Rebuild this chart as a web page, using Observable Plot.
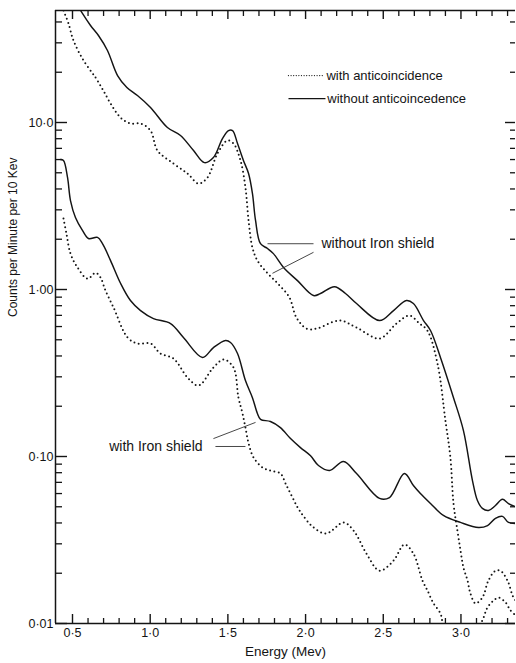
<!DOCTYPE html>
<html><head><meta charset="utf-8">
<script src="https://cdn.jsdelivr.net/npm/d3@7"></script>
<script src="https://cdn.jsdelivr.net/npm/@observablehq/plot@0.6"></script>
<style>
body{margin:0;background:#fff}
#chart svg{display:block}
</style>
</head><body><div id="chart"></div>
<script>
// ---- Data ----
// Without iron shield, without anticoincidence (upper solid)
const energyNoShieldNoAnti = [0.526,0.564,0.616,0.667,0.725,0.790,0.850,0.918,1.002,1.111,1.195,1.279,1.349,1.407,1.465,1.504,1.530,1.562,1.600,1.633,1.658,1.678,1.710,1.755,1.793,1.858,1.948,2.051,2.096,2.186,2.257,2.328,2.476,2.566,2.649,2.694,2.759,2.804,2.868,2.952,3.016,3.074,3.106,3.138,3.177,3.222,3.267,3.306,3.364];
const countsNoShieldNoAnti = [51.6,45.0,38.1,33.2,27.0,19.1,16.2,14.5,12.3,9.33,8.36,6.79,5.75,6.17,8.02,8.95,8.95,7.48,5.92,4.95,3.76,2.59,1.88,1.76,1.64,1.355,1.13,0.92,0.946,1.04,0.946,0.824,0.652,0.748,0.859,0.824,0.652,0.568,0.392,0.225,0.143,0.0718,0.0545,0.0489,0.0475,0.0509,0.0554,0.0523,0.0495];

// Without iron shield, with anticoincidence (upper dotted)
const energyNoShieldAnti = [0.423,0.442,0.474,0.506,0.571,0.648,0.699,0.745,0.809,0.873,0.938,1.002,1.047,1.150,1.240,1.311,1.369,1.433,1.497,1.536,1.581,1.613,1.633,1.658,1.690,1.755,1.819,1.896,1.941,2.006,2.070,2.218,2.328,2.476,2.585,2.669,2.733,2.784,2.849,2.900,2.932,2.952,2.977,2.997,3.016,3.042,3.061,3.093,3.138,3.177,3.222,3.254,3.299,3.338,3.364];
const countsNoShieldAnti = [52.4,46.9,39.2,31.0,23.5,18.6,15.5,13.0,10.7,9.86,9.86,8.95,6.79,5.68,4.95,4.31,4.69,6.52,7.80,7.48,5.92,4.08,2.59,1.78,1.49,1.25,1.09,0.895,0.679,0.583,0.583,0.652,0.591,0.509,0.625,0.698,0.625,0.568,0.360,0.164,0.0986,0.0523,0.0361,0.0274,0.0216,0.0181,0.0151,0.0132,0.0143,0.0181,0.0207,0.0207,0.0181,0.0143,0.0134];

// With iron shield, without anticoincidence (lower solid)
const energyShieldNoAnti = [0.423,0.442,0.468,0.487,0.519,0.564,0.603,0.661,0.693,0.745,0.809,0.873,0.938,1.021,1.131,1.214,1.337,1.407,1.485,1.517,1.562,1.613,1.658,1.690,1.710,1.774,1.838,1.903,1.967,2.032,2.083,2.154,2.244,2.328,2.476,2.540,2.636,2.694,2.739,2.804,2.887,2.997,3.113,3.171,3.222,3.267,3.306,3.364];
const countsShieldNoAnti = [6.0,5.92,4.69,3.41,2.70,2.26,2.02,2.05,1.88,1.49,1.09,0.859,0.748,0.670,0.625,0.516,0.392,0.449,0.495,0.482,0.414,0.285,0.225,0.181,0.167,0.162,0.149,0.128,0.113,0.101,0.0883,0.0824,0.0933,0.0791,0.0561,0.0568,0.0791,0.0670,0.0600,0.0523,0.0444,0.0403,0.0376,0.0386,0.0426,0.0438,0.0403,0.0397];

// With iron shield, with anticoincidence (lower dotted)
const energyShieldAnti = [0.442,0.461,0.487,0.532,0.597,0.648,0.680,0.712,0.764,0.854,0.918,1.002,1.066,1.150,1.240,1.311,1.407,1.472,1.536,1.568,1.594,1.613,1.633,1.665,1.723,1.774,1.838,1.871,1.916,1.961,2.051,2.134,2.244,2.308,2.392,2.476,2.566,2.636,2.694,2.752,2.784,2.823,2.868,2.887,3.000,3.126,3.171,3.209,3.241,3.286,3.318,3.351];
const countsShieldAnti = [2.66,2.16,1.64,1.355,1.16,1.26,1.18,0.986,0.780,0.516,0.475,0.475,0.414,0.386,0.297,0.266,0.341,0.381,0.341,0.225,0.181,0.149,0.120,0.0986,0.0859,0.0824,0.0791,0.0689,0.0568,0.0475,0.0376,0.0346,0.0403,0.0361,0.0262,0.0207,0.0238,0.0297,0.0262,0.0181,0.0158,0.0132,0.0115,0.0100,0.0080,0.0100,0.0125,0.0137,0.0143,0.0134,0.0120,0.0112];

// Axis ticks and labels
const xDomain = [0.3906, 3.351];
const yDomain = [0.01, 46.85];
const xMajorTicks = [0.5, 1.0, 1.5, 2.0, 2.5, 3.0];
const xTickLabels = ["0·5", "1·0", "1·5", "2·0", "2·5", "3·0"];
const xMinorTicks = [0.6,0.7,0.8,0.9,1.1,1.2,1.3,1.4,1.6,1.7,1.8,1.9,2.1,2.2,2.3,2.4,2.6,2.7,2.8,2.9,3.1,3.2,3.3];
const yMajorTicks = [0.01, 0.1, 1, 10];
const yTickLabels = ["0·01", "0·10", "1·00", "10·0"];
const yMinorTicks = [0.02,0.03,0.04,0.05,0.06,0.07,0.08,0.09,0.2,0.3,0.4,0.5,0.6,0.7,0.8,0.9,2,3,4,5,6,7,8,9,20,30,40];

const xTitle = "Energy (Mev)";
const yTitle = "Counts per Minute per 10 Kev";

// Legend and annotation text
const legendLabels = ["with anticoincidence", "without anticoincedence"];
const annotationLabels = ["without Iron shield", "with Iron shield"];

// ---- Build tables ----
const rows = (E, V) => E.map((e, i) => ({E: e, v: V[i]}));
const seriesSolid = [rows(energyNoShieldNoAnti, countsNoShieldNoAnti), rows(energyShieldNoAnti, countsShieldNoAnti)];
const seriesDotted = [rows(energyNoShieldAnti, countsNoShieldAnti), rows(energyShieldAnti, countsShieldAnti)];

// layout
const W = 516, H = 663, mL = 55, mR = 1, mT = 10, mB = 40;
const pw = W - mL - mR, ph = H - mT - mB;
const font = "'Liberation Sans', Arial, sans-serif";
const ink = "#141414";

// annotation placement (data coordinates)
const legendDotted = [{x1: 1.890, x2: 2.122, xt: 2.134, y: 19.1, label: legendLabels[0]}];
const legendSolid = [{x1: 1.890, x2: 2.128, xt: 2.140, y: 13.9, label: legendLabels[1]}];
const annotStart = [{x: 2.102, y: 1.88, label: annotationLabels[0]}];
const annotEnd = [{x: 1.337, y: 0.1148, label: annotationLabels[1]}];
const leaders = [
  {x1: 1.755, y1: 1.88, x2: 2.051, y2: 1.88},
  {x1: 2.051, y1: 1.67, x2: 1.787, y2: 1.25},
  {x1: 1.420, y1: 0.1148, x2: 1.613, y2: 0.1148},
  {x1: 1.407, y1: 0.128, x2: 1.678, y2: 0.160}
];

const solidStyle = {x: "E", y: "v", curve: "catmull-rom", clip: true, stroke: ink, strokeWidth: 1.45};
const dotStyle = {x: "E", y: "v", curve: "catmull-rom", clip: true, stroke: ink, strokeWidth: 2, strokeDasharray: "0,4.4", strokeLinecap: "round"};

const chart = Plot.plot({
  width: W, height: H,
  marginLeft: mL, marginRight: mR, marginTop: mT, marginBottom: mB,
  style: {fontFamily: font, background: "#fff", color: ink},
  x: {domain: xDomain},
  y: {type: "log", domain: yDomain},
  marks: [
    // axis labels
    Plot.axisX({ticks: xMajorTicks, tickSize: 0, tickPadding: 5, tickFormat: d => xTickLabels[xMajorTicks.indexOf(d)], fontSize: 12.5, label: null}),
    Plot.axisY({ticks: yMajorTicks, tickSize: 0, tickPadding: 2, tickFormat: d => yTickLabels[yMajorTicks.indexOf(d)], fontSize: 12.5, label: null}),
    // frame: left, top, bottom
    Plot.ruleX([xDomain[0]], {stroke: ink, strokeWidth: 1.5}),
    Plot.ruleY([yDomain[0]], {stroke: ink, strokeWidth: 1.5}),
    Plot.ruleY([yDomain[1]], {stroke: ink, strokeWidth: 1.3}),
    // inward ticks: left
    Plot.ruleY(yMajorTicks, {insetRight: pw - 12, stroke: ink, strokeWidth: 1.4}),
    Plot.ruleY(yMinorTicks, {insetRight: pw - 7, stroke: ink, strokeWidth: 1.3}),
    // right
    Plot.ruleY(yMajorTicks, {insetLeft: pw - 10, stroke: ink, strokeWidth: 1.4}),
    Plot.ruleY(yMinorTicks, {insetLeft: pw - 5, stroke: ink, strokeWidth: 1.3}),
    // bottom
    Plot.ruleX(xMajorTicks, {insetTop: ph - 9, stroke: ink, strokeWidth: 1.4}),
    Plot.ruleX(xMinorTicks, {insetTop: ph - 5, stroke: ink, strokeWidth: 1.3}),
    // top
    Plot.ruleX(xMajorTicks, {insetBottom: ph - 9, stroke: ink, strokeWidth: 1.4}),
    Plot.ruleX(xMinorTicks, {insetBottom: ph - 6, stroke: ink, strokeWidth: 1.3}),
    // curves
    ...seriesSolid.map(s => Plot.line(s, solidStyle)),
    ...seriesDotted.map(s => Plot.line(s, dotStyle)),
    // legend
    Plot.link(legendDotted, {x1: "x1", x2: "x2", y1: "y", y2: "y", stroke: ink, strokeWidth: 1.3, strokeDasharray: "0,2.6", strokeLinecap: "round"}),
    Plot.link(legendSolid, {x1: "x1", x2: "x2", y1: "y", y2: "y", stroke: ink, strokeWidth: 1.3}),
    Plot.text(legendDotted.concat(legendSolid), {x: "xt", y: "y", text: "label", textAnchor: "start", fontSize: 13, fill: ink}),
    // annotations
    Plot.link(leaders, {x1: "x1", y1: "y1", x2: "x2", y2: "y2", stroke: "#333", strokeWidth: 0.9}),
    Plot.text(annotStart, {x: "x", y: "y", text: "label", textAnchor: "start", fontSize: 14, fill: ink}),
    Plot.text(annotEnd, {x: "x", y: "y", text: "label", textAnchor: "end", fontSize: 14, fill: ink}),
    // axis titles
    Plot.text([xTitle], {frameAnchor: "bottom", dy: 32, fontSize: 13.5, fill: ink}),
    Plot.text([yTitle], {frameAnchor: "left", dx: -42, rotate: -90, fontSize: 12, fill: ink})
  ]
});
document.getElementById("chart").append(chart);
</script>
</body></html>
